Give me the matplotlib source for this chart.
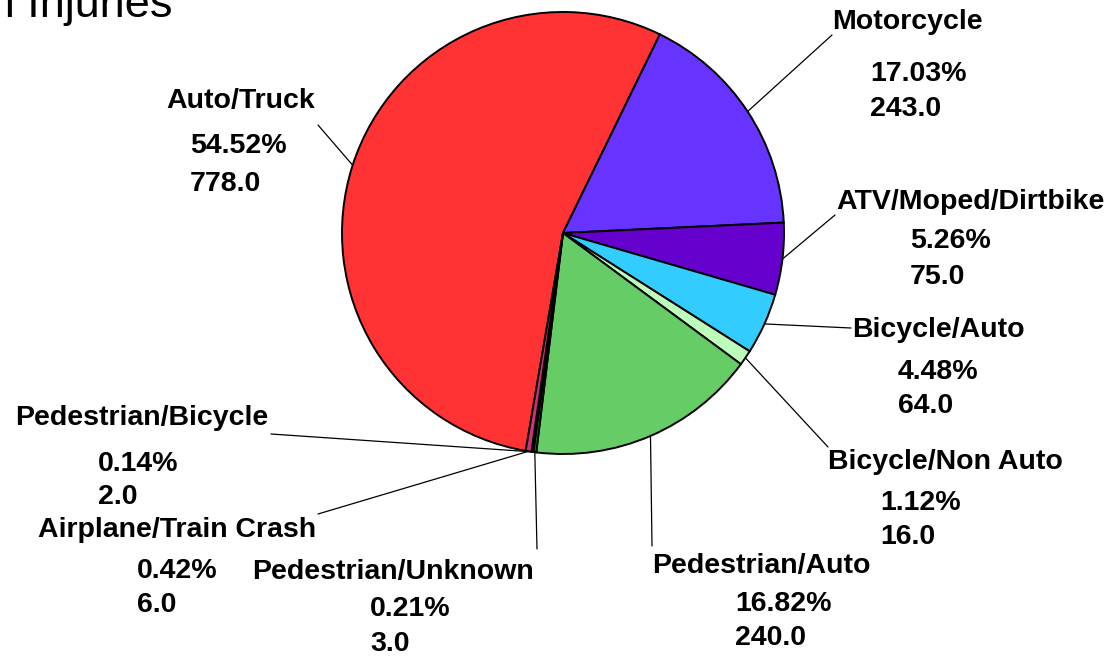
import numpy as np
import matplotlib
matplotlib.use("Agg")
import matplotlib.pyplot as plt

plt.rcParams['font.family'] = ['Liberation Sans', 'DejaVu Sans']

# --- data ---
categories = ["Auto/Truck", "Motorcycle", "ATV/Moped/Dirtbike", "Bicycle/Auto",
              "Bicycle/Non Auto", "Pedestrian/Auto", "Pedestrian/Unknown",
              "Pedestrian/Bicycle", "Airplane/Train Crash"]
counts = [778, 243, 75, 64, 16, 240, 3, 2, 6]
colors = ["#FF3333", "#6633FF", "#6600CC", "#33CCFF", "#BBFFBB",
          "#66CC66", "#009900", "#006633", "#CC3377"]
title = "Transportation Injuries"

# label layout (pixels from top-left): name x, name y, values x, percent y, value y, leader end
label_pos = {
    "Auto/Truck":           (166, 101, 190, 146, 184, (318, 125)),
    "Motorcycle":           (832, 22, 870, 74, 109, (832, 35)),
    "ATV/Moped/Dirtbike":   (836, 202, 910, 241, 277, (835, 215)),
    "Bicycle/Auto":         (852, 330, 898, 372, 406, (851, 328)),
    "Bicycle/Non Auto":     (828, 462, 880, 503, 537, (828, 447)),
    "Pedestrian/Auto":      (652, 566, 735, 604, 638, (652, 546)),
    "Pedestrian/Unknown":   (252, 572, 370, 609, 644, (537, 549)),
    "Pedestrian/Bicycle":   (15, 418, 98, 464, 497, (271, 434)),
    "Airplane/Train Crash": (38, 530, 137, 571, 605, (318, 514)),
}

W, H = 1116, 658
cx, cy, R = 563, 233, 221
total = sum(counts)

fig = plt.figure(figsize=(W / 100, H / 100), dpi=100)

ax = fig.add_axes([(cx - R) / W, (H - cy - R) / H, 2 * R / W, 2 * R / H])
wedges, _ = ax.pie(counts, colors=colors, startangle=64 + 360 * counts[0] / total,
                   counterclock=False, radius=1,
                   wedgeprops=dict(edgecolor="black", linewidth=1.4))
ax.set_xlim(-1, 1)
ax.set_ylim(-1, 1)
ax.set_aspect("equal")
ax.axis("off")

# overlay in pixel coordinates for labels
ov = fig.add_axes([0, 0, 1, 1], zorder=-1)
ov.set_xlim(0, W)
ov.set_ylim(H, 0)
ov.axis("off")

for w, name, n in zip(wedges, categories, counts):
    nx, ny, vx, py, vy, end = label_pos[name]
    mid = np.deg2rad((w.theta1 + w.theta2) / 2)
    ax.annotate("", xy=(np.cos(mid), np.sin(mid)), xycoords="data",
                xytext=(end[0], H - end[1]), textcoords="figure pixels",
                arrowprops=dict(arrowstyle="-", color="black", lw=0.9,
                                shrinkA=0, shrinkB=0))
    ov.text(nx, ny, name, fontsize=20.5, fontweight="bold", ha="left", va="center")
    ov.text(vx, py, f"{100 * n / total:.2f}%", fontsize=20.5, fontweight="bold",
            ha="left", va="center")
    ov.text(vx, vy, f"{n:.1f}", fontsize=20.5, fontweight="bold",
            ha="left", va="center")

# title, cut off at the top-left as in the original
fig.text(173 / W, (H - 17) / H, title, fontsize=32.5, ha="right", va="baseline")

fig.savefig("out.png", dpi=100)
